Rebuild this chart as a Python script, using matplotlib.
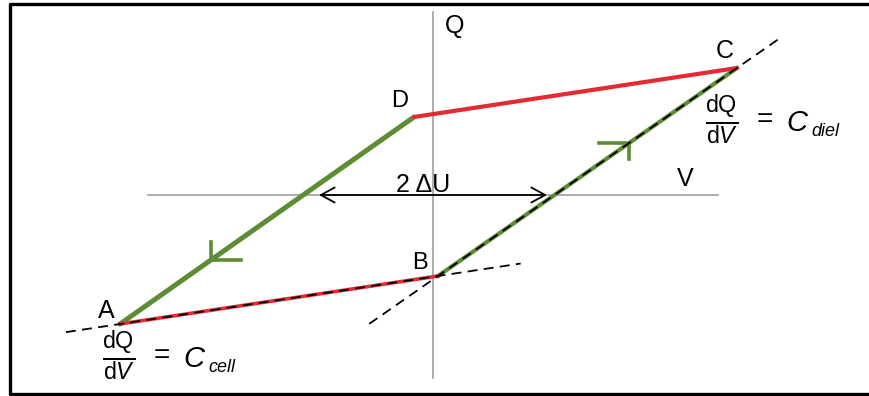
import numpy as np
import matplotlib
matplotlib.use('Agg')
from matplotlib import pyplot as plt
from matplotlib.lines import Line2D

plt.rcParams['font.family'] = ['Liberation Sans', 'DejaVu Sans']
plt.rcParams['mathtext.fontset'] = 'custom'
plt.rcParams['mathtext.rm'] = 'Liberation Sans'
plt.rcParams['mathtext.it'] = 'Liberation Sans:italic'

# corner points of the Q-V loop (V, Q)
labels = ['A', 'B', 'C', 'D']
V = [-3.13, 0.05, 3.04, -0.19]
Q = [-1.29, -0.81, 1.27, 0.78]
dU = 1.14  # half of the 2ΔU gap on the V axis

GREEN = '#5e8c34'
RED = '#e42a33'

fig = plt.figure(figsize=(8.69, 3.96), dpi=100)
ax = fig.add_axes([0, 0, 1, 1])
ax.set_xlim(-4.33, 4.36)
ax.set_ylim(-2.01, 1.95)
ax.axis('off')

pts = {k: np.array([v, q]) for k, v, q in zip(labels, V, Q)}
A, B, C, D = pts['A'], pts['B'], pts['C'], pts['D']

# Q and V axes
ax.plot([0, 0], [-1.83, 1.83], color='#a0a0a0', lw=1.2, zorder=1)
ax.plot([-2.85, 2.85], [0, 0], color='#a0a0a0', lw=1.2, zorder=1)

# dashed slope lines through AB and BC
def along(p, q, t):
    return p + t * (q - p)

for p, q, t0, t1 in [(A, B, -0.17, 1.26), (B, C, -0.23, 1.15)]:
    s, e = along(p, q, t0), along(p, q, t1)
    ax.plot([s[0], e[0]], [s[1], e[1]], color='black', lw=1.3,
            dashes=(5.5, 3.5), zorder=4)

# loop segments
ax.plot([D[0], A[0]], [D[1], A[1]], color=GREEN, lw=3.6,
        solid_capstyle='round', zorder=2)
ax.plot([B[0], C[0]], [B[1], C[1]], color=GREEN, lw=3.0, zorder=2)
ax.plot([A[0], B[0]], [A[1], B[1]], color=RED, lw=2.6, zorder=2)
ax.plot([D[0], C[0]], [D[1], C[1]], color=RED, lw=3.0,
        solid_capstyle='round', zorder=2)

# direction chevrons on the green branches
p1 = along(D, A, 0.69)
ax.plot([p1[0], p1[0]], [p1[1] + 0.18, p1[1]], color=GREEN, lw=2.6, zorder=3)
ax.plot([p1[0], p1[0] + 0.30], [p1[1], p1[1]], color=GREEN, lw=2.6, zorder=3)
p2 = along(B, C, 0.64)
ax.plot([p2[0] - 0.30, p2[0]], [p2[1], p2[1]], color=GREEN, lw=2.6, zorder=3)
ax.plot([p2[0], p2[0]], [p2[1], p2[1] - 0.16], color=GREEN, lw=2.6, zorder=3)

# 2ΔU arrow
ax.annotate('', xy=(dU, 0), xytext=(-dU, 0),
            arrowprops=dict(arrowstyle='<->,head_length=0.55,head_width=0.3',
                            mutation_scale=18, lw=1.3, color='black',
                            shrinkA=0, shrinkB=0), zorder=5)
ax.text(-0.10, 0.10, '2 ΔU', fontsize=18, ha='center', va='center')

# point and axis labels
ax.text(0.22, 1.69, 'Q', fontsize=18, ha='center', va='center')
ax.text(2.52, 0.16, 'V', fontsize=18, ha='center', va='center')
ax.text(-3.27, -1.16, 'A', fontsize=18, ha='center', va='center')
ax.text(-0.13, -0.68, 'B', fontsize=17, ha='center', va='center')
ax.text(2.92, 1.44, 'C', fontsize=18, ha='center', va='center')
ax.text(-0.33, 0.94, 'D', fontsize=17, ha='center', va='center')

# slope annotations dQ/dV = C
def slope_label(x, y, sub):
    ax.text(x, y, r'$\frac{\mathrm{dQ}}{\mathrm{d}V}$', fontsize=24,
            ha='center', va='center')
    ax.text(x + 0.35, y, '=', fontsize=20, ha='left', va='center')
    ax.text(x + 0.64, y - 0.03, 'C', fontsize=21, ha='left', va='center',
            style='italic')
    ax.text(x + 0.89, y - 0.11, sub, fontsize=13, ha='left', va='center',
            style='italic')

slope_label(-3.14, -1.61, 'cell')
slope_label(2.89, 0.75, 'diel')

# open frame (left, top, bottom)
frame = Line2D([1.1, 9.5 / 869, 9.5 / 869, 1.1],
               [1 - 3.5 / 396, 1 - 3.5 / 396, 2.5 / 396, 2.5 / 396],
               transform=fig.transFigure, color='black', lw=2.4)
fig.add_artist(frame)

fig.savefig('out.png', dpi=100)
